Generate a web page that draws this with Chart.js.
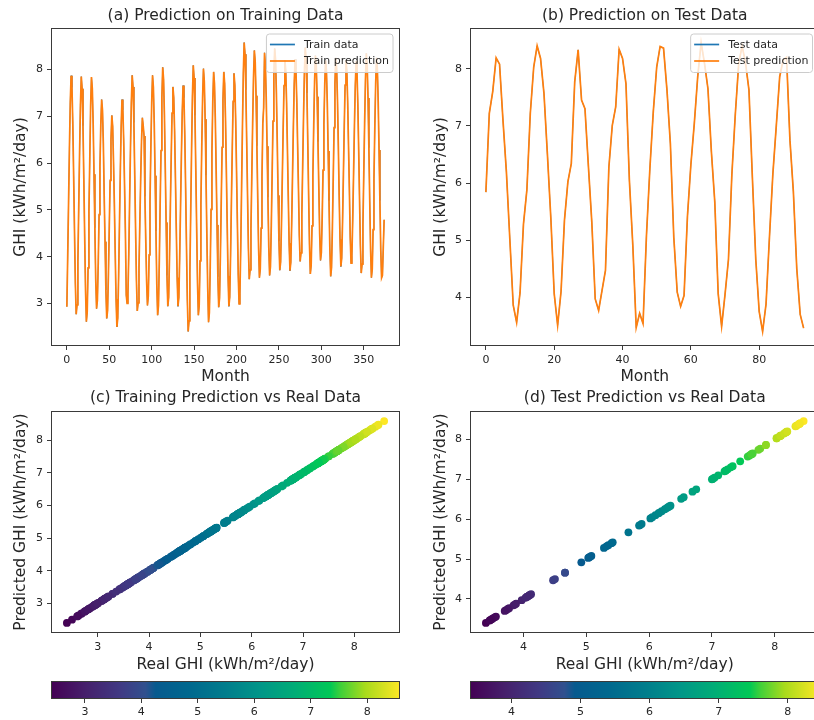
<!DOCTYPE html>
<html>
<head>
<meta charset="utf-8">
<script src="https://cdn.jsdelivr.net/npm/chart.js@4.4.1/dist/chart.umd.min.js"></script>
<style>
  html, body { margin: 0; padding: 0; background: #ffffff; width: 814px; height: 720px; overflow: hidden; }
  canvas { position: absolute; }
</style>
</head>
<body>
<canvas id="trainLine" width="410" height="390" style="left:0px;top:0px"></canvas>
<canvas id="testLine" width="420" height="390" style="left:410px;top:0px"></canvas>
<canvas id="trainScatter" width="410" height="295" style="left:0px;top:380px"></canvas>
<canvas id="testScatter" width="420" height="295" style="left:410px;top:380px"></canvas>
<canvas id="trainBar" width="410" height="45" style="left:0px;top:675px"></canvas>
<canvas id="testBar" width="420" height="45" style="left:410px;top:675px"></canvas>
<script>
// Monthly GHI (kWh/m²/day), training period: 375 months, one row per year
const trainGHI = [
  2.93, 4.02, 5.15, 6.29, 7.28, 7.87, 7.62, 6.85, 5.73, 4.56, 3.43, 2.77,
  2.97, 3.89, 5.06, 6.22, 7.24, 7.85, 7.59, 6.80, 5.65, 4.44, 3.29, 2.61,
  2.82, 3.76, 4.96, 6.06, 7.21, 7.84, 7.59, 6.85, 5.76, 4.62, 3.53, 2.89,
  3.07, 3.87, 4.90, 5.93, 6.82, 7.36, 7.13, 6.42, 5.31, 4.32, 3.29, 2.68,
  2.85, 3.63, 4.63, 5.63, 6.50, 7.02, 6.79, 6.03, 5.12, 4.08, 3.09, 2.50,
  2.69, 3.57, 4.69, 5.80, 6.78, 7.36, 7.14, 6.49, 5.53, 4.53, 3.18, 3.00,
  3.20, 4.07, 5.20, 6.32, 7.29, 7.88, 7.63, 6.87, 5.76, 4.60, 3.50, 2.84,
  3.01, 3.75, 4.70, 5.65, 6.47, 6.97, 6.80, 6.58, 5.29, 4.36, 3.48, 2.96,
  3.16, 4.04, 5.17, 6.31, 7.29, 7.88, 7.62, 6.85, 5.73, 4.55, 3.42, 2.75,
  2.96, 3.92, 5.14, 6.27, 7.41, 8.05, 7.79, 7.03, 5.90, 4.73, 3.60, 2.94,
  3.13, 3.97, 5.05, 6.13, 7.07, 7.63, 7.40, 6.69, 5.66, 4.58, 3.55, 2.94,
  3.13, 3.98, 5.06, 6.15, 7.09, 7.66, 7.40, 6.61, 5.47, 4.24, 3.08, 2.40,
  2.63, 3.65, 4.96, 6.27, 7.41, 8.09, 7.82, 7.02, 5.85, 4.62, 3.44, 2.75,
  2.96, 3.91, 5.12, 6.33, 7.39, 8.02, 7.75, 6.94, 5.74, 4.50, 3.36, 2.60,
  2.81, 3.78, 5.01, 6.24, 7.31, 7.95, 7.70, 6.94, 5.84, 4.68, 3.57, 2.92,
  3.12, 4.03, 5.18, 6.34, 7.35, 7.95, 7.70, 6.95, 5.85, 4.69, 3.59, 2.94,
  3.14, 4.04, 5.21, 6.33, 7.32, 7.92, 7.67, 6.93, 5.85, 4.72, 3.63, 2.99,
  3.21, 4.22, 5.51, 6.79, 7.91, 8.58, 8.33, 7.57, 6.45, 5.29, 4.18, 3.52,
  3.72, 4.60, 5.72, 6.85, 7.82, 8.41, 8.17, 7.44, 6.37, 5.25, 4.18, 3.55,
  3.74, 4.61, 5.71, 6.85, 7.19, 8.36, 8.12, 7.41, 6.36, 5.27, 4.22, 3.60,
  3.79, 4.67, 5.78, 6.90, 7.87, 8.45, 8.21, 7.50, 6.46, 5.31, 4.33, 3.71,
  3.89, 4.70, 5.73, 6.76, 7.66, 8.20, 7.98, 7.30, 6.31, 5.28, 4.29, 3.70,
  3.88, 4.69, 5.73, 6.77, 7.68, 8.22, 8.00, 7.36, 6.41, 5.47, 4.46, 3.90,
  4.08, 4.91, 5.96, 7.01, 7.92, 8.47, 8.23, 7.50, 6.44, 5.32, 4.26, 3.63,
  3.82, 4.66, 5.73, 6.81, 7.74, 8.30, 8.08, 7.42, 6.46, 5.49, 4.49, 3.92,
  4.09, 4.86, 5.85, 6.83, 7.69, 8.20, 7.97, 7.28, 6.26, 5.20, 4.18, 3.58,
  3.77, 4.61, 5.68, 6.76, 7.69, 8.25, 8.03, 7.36, 6.38, 5.30, 4.37, 3.79,
  3.97, 4.76, 5.77, 6.79, 7.67, 8.20, 7.98, 7.33, 6.38, 5.46, 4.42, 3.86,
  4.03, 4.81, 5.80, 6.80, 7.66, 8.18, 7.95, 7.27, 6.28, 5.24, 4.24, 3.65,
  3.84, 4.68, 5.77, 6.85, 7.79, 8.35, 8.11, 7.39, 6.33, 5.23, 4.17, 3.55,
  3.74, 4.58, 5.67, 6.75, 7.69, 8.25, 8.02, 7.31, 6.28, 5.20, 4.16, 3.55,
  3.60, 4.20, 4.79
];

// Monthly GHI (kWh/m²/day), test period: 94 months
const testGHI = [
  5.84, 7.22, 7.60, 8.19, 8.08, 7.10, 6.20, 5.03, 3.86, 3.56,
  4.08, 5.28, 5.88, 7.22, 8.03, 8.40, 8.18, 7.57, 6.51, 5.40,
  4.06, 3.51, 4.10, 5.35, 6.02, 6.34, 7.77, 8.33, 7.45, 7.30,
  6.30, 5.32, 3.97, 3.77, 4.12, 4.47, 6.28, 7.01, 7.33, 8.34,
  8.18, 7.74, 6.05, 4.92, 3.47, 3.72, 3.54, 5.08, 6.25, 7.25,
  8.03, 8.39, 8.36, 7.63, 6.69, 5.05, 4.09, 3.84, 4.03, 5.42,
  6.32, 7.04, 7.86, 8.46, 8.09, 7.65, 6.55, 5.67, 4.06, 3.49,
  4.05, 4.66, 6.15, 7.20, 8.09, 8.40, 8.10, 7.63, 6.10, 4.66,
  3.75, 3.40, 3.88, 5.05, 6.16, 7.00, 7.86, 8.15, 8.20, 6.75,
  5.85, 4.50, 3.70, 3.46
];

// Tick labels
const trainMonthTicks = [0, 50, 100, 150, 200, 250, 300, 350];
const testMonthTicks = [0, 20, 40, 60, 80];
const trainGHITicks = [3, 4, 5, 6, 7, 8];
const testGHITicks = [4, 5, 6, 7, 8];

// Text
const panelTitles = [
  '(a) Prediction on Training Data',
  '(b) Prediction on Test Data',
  '(c) Training Prediction vs Real Data',
  '(d) Test Prediction vs Real Data'
];
const seriesLabels = ['Train data', 'Train prediction', 'Test data', 'Test prediction'];
const monthLabel = 'Month';
const ghiLabel = 'GHI (kWh/m²/day)';
const realLabel = 'Real GHI (kWh/m²/day)';
const predLabel = 'Predicted GHI (kWh/m²/day)';

// ---------- styling ----------
const TEXT = '#262626';
const SPINE = '#3a3a3a';
const BLUE = '#1f77b4';
const ORANGE = '#ff7f0e';
const BIG = 15.5;
const SMALL = 11;

Chart.defaults.font.family = '"DejaVu Sans", Verdana, sans-serif';
Chart.defaults.color = TEXT;
Chart.defaults.animation = false;

// vivid viridis-like ramp: [position 0..1, colour]
const RAMP = [
  [0.00, '#440154'],
  [0.10, '#46206c'],
  [0.20, '#403a84'],
  [0.27, '#31508e'],
  [0.30, '#075a8e'],
  [0.40, '#00698e'],
  [0.50, '#007d8c'],
  [0.60, '#009688'],
  [0.70, '#00ad76'],
  [0.80, '#00c856'],
  [0.83, '#3fd03a'],
  [0.90, '#a8db1c'],
  [1.00, '#fde725']
];
function hexToRgb(h) {
  return [parseInt(h.slice(1, 3), 16), parseInt(h.slice(3, 5), 16), parseInt(h.slice(5, 7), 16)];
}
function rampColor(t) {
  t = Math.max(0, Math.min(1, t));
  let i = 0;
  while (i < RAMP.length - 2 && t > RAMP[i + 1][0]) i++;
  const [p0, c0] = RAMP[i], [p1, c1] = RAMP[i + 1];
  const f = (t - p0) / (p1 - p0);
  const a = hexToRgb(c0), b = hexToRgb(c1);
  const c = a.map((v, k) => Math.round(v + (b[k] - v) * f));
  return `rgb(${c[0]},${c[1]},${c[2]})`;
}

function paddedRange(lo, hi) {
  const m = (hi - lo) * 0.05;
  return [lo - m, hi + m];
}

// frame around the plotting area (all four spines)
const frame = {
  id: 'frame',
  afterDraw(chart) {
    const a = chart.chartArea, ctx = chart.ctx;
    ctx.save();
    ctx.strokeStyle = SPINE;
    ctx.lineWidth = 1;
    const l = Math.round(a.left) + 0.5, t = Math.round(a.top) + 0.5;
    const r = Math.round(a.right) - 0.5, b = Math.round(a.bottom) - 0.5;
    ctx.strokeRect(l, t, r - l, b - t);
    ctx.restore();
  }
};

// legend box drawn inside the upper-right corner of the plotting area
const insetLegend = {
  id: 'insetLegend',
  afterDatasetsDraw(chart, args, opts) {
    if (!opts || !opts.display) return;
    const ctx = chart.ctx, a = chart.chartArea;
    const items = chart.data.datasets.map(d => ({ text: d.label, color: d.borderColor }));
    ctx.save();
    ctx.font = `${SMALL}px "DejaVu Sans"`;
    const textW = Math.max(...items.map(it => ctx.measureText(it.text).width));
    const padL = 3.5, lineLen = 25, gap = 9, padR = 4, rowH = 16.5;
    const w = padL + lineLen + gap + textW + padR;
    const h = 11 + rowH * (items.length - 1) + 11;
    const right = a.right - 7, top = a.top + 6;
    const left = right - w;
    ctx.beginPath();
    if (ctx.roundRect) ctx.roundRect(left, top, w, h, 3); else ctx.rect(left, top, w, h);
    ctx.fillStyle = 'rgba(255,255,255,0.8)';
    ctx.fill();
    ctx.strokeStyle = '#cccccc';
    ctx.lineWidth = 1;
    ctx.stroke();
    items.forEach((it, i) => {
      const y = top + 10.5 + i * rowH;
      ctx.beginPath();
      ctx.moveTo(left + padL, y);
      ctx.lineTo(left + padL + lineLen, y);
      ctx.strokeStyle = it.color;
      ctx.lineWidth = 1.7;
      ctx.stroke();
      ctx.fillStyle = TEXT;
      ctx.textBaseline = 'middle';
      ctx.textAlign = 'left';
      ctx.fillText(it.text, left + padL + lineLen + gap, y + 0.5);
    });
    ctx.restore();
  }
};

// colour ramp filling the plotting area (used for the colorbars)
const colorRamp = {
  id: 'colorRamp',
  beforeDatasetsDraw(chart, args, opts) {
    if (!opts || !opts.display) return;
    const a = chart.chartArea, ctx = chart.ctx;
    const g = ctx.createLinearGradient(a.left, 0, a.right, 0);
    RAMP.forEach(([p, c]) => g.addColorStop(p, c));
    ctx.save();
    ctx.fillStyle = g;
    ctx.fillRect(a.left, a.top, a.right - a.left, a.bottom - a.top);
    ctx.restore();
  }
};

function axis(range, tickValues, fixed, titleText, titlePad) {
  const horizontalSize = fixed.height !== undefined;
  return {
    type: 'linear',
    min: range[0],
    max: range[1],
    border: { display: false },
    grid: { drawOnChartArea: false, drawTicks: true, tickLength: 4, color: SPINE, lineWidth: 1 },
    ticks: {
      font: { size: SMALL }, color: TEXT, padding: 4,
      autoSkip: false, maxRotation: 0, minRotation: 0,
      callback: v => String(v)
    },
    afterBuildTicks: s => { s.ticks = tickValues.map(v => ({ value: v })); },
    afterFit: s => {
      if (horizontalSize) s.height = fixed.height; else s.width = fixed.width;
    },
    title: titleText ? {
      display: true, text: titleText, color: TEXT,
      font: { size: BIG }, padding: titlePad
    } : { display: false }
  };
}

function titleOpts(text, top, bottom) {
  return {
    display: true, text, color: TEXT, fullSize: false,
    font: { size: BIG, weight: 'normal' },
    padding: { top, bottom }
  };
}

const basePlugins = { legend: { display: false }, tooltip: { enabled: false } };

// ---------- (a) and (b): time series ----------
function lineChart(id, values, labels, monthTicks, ghiTicks, title, yWidth, yTitlePad, padRight) {
  const pts = values.map((v, i) => ({ x: i, y: v }));
  const xr = paddedRange(0, values.length - 1);
  const yr = paddedRange(Math.min(...values), Math.max(...values));
  return new Chart(document.getElementById(id), {
    type: 'line',
    data: {
      datasets: [
        // observed series sits underneath the prediction, which coincides with it
        { label: labels[0], data: pts, borderColor: BLUE, backgroundColor: BLUE, borderWidth: 0.8, order: 1 },
        { label: labels[1], data: pts, borderColor: ORANGE, backgroundColor: ORANGE, borderWidth: 1.7, order: 0 }
      ]
    },
    options: {
      responsive: false,
      events: [],
      layout: { padding: { left: 0, right: padRight, top: 0, bottom: 0 } },
      elements: { line: { tension: 0, fill: false }, point: { radius: 0 } },
      scales: {
        x: axis(xr, monthTicks, { height: 44 }, monthLabel, { top: 0, bottom: 3.7 }),
        y: axis(yr, ghiTicks, { width: yWidth }, ghiLabel, { top: yTitlePad, bottom: 0 })
      },
      plugins: Object.assign({}, basePlugins, {
        title: titleOpts(title, 6.7, 2.7),
        insetLegend: { display: true }
      })
    },
    plugins: [frame, insetLegend]
  });
}

lineChart('trainLine', trainGHI, seriesLabels.slice(0, 2), trainMonthTicks, trainGHITicks, panelTitles[0], 51, 12, 10);
lineChart('testLine', testGHI, seriesLabels.slice(2, 4), testMonthTicks, testGHITicks, panelTitles[1], 60, 21.5, 10.5);

// ---------- (c) and (d): predicted vs real ----------
function scatterChart(id, values, ghiTicks, title, yWidth, yTitlePad, padRight) {
  const lo = Math.min(...values), hi = Math.max(...values);
  const r = paddedRange(lo, hi);
  const pts = values.map(v => ({ x: v, y: v }));
  const colors = values.map(v => rampColor((v - lo) / (hi - lo)));
  return new Chart(document.getElementById(id), {
    type: 'scatter',
    data: {
      datasets: [{
        data: pts, pointBackgroundColor: colors, pointBorderWidth: 0,
        pointRadius: 3.9, pointHoverRadius: 3.9
      }]
    },
    options: {
      responsive: false,
      events: [],
      layout: { padding: { left: 0, right: padRight, top: 0, bottom: 0 } },
      scales: {
        x: axis(r, ghiTicks, { height: 42 }, realLabel, { top: 0, bottom: 0.7 }),
        y: axis(r, ghiTicks, { width: yWidth }, predLabel, { top: yTitlePad, bottom: 0 })
      },
      plugins: Object.assign({}, basePlugins, { title: titleOpts(title, 8.7, 3.7) })
    },
    plugins: [frame]
  });
}

scatterChart('trainScatter', trainGHI, trainGHITicks, panelTitles[2], 51, 12, 10);
scatterChart('testScatter', testGHI, testGHITicks, panelTitles[3], 60, 21.5, 10.5);

// ---------- colorbars ----------
function colorBar(id, values, ticks, padLeft, padRight) {
  const lo = Math.min(...values), hi = Math.max(...values);
  const x = axis([lo, hi], ticks, { height: 21 }, null, null);
  x.ticks.padding = 3;
  return new Chart(document.getElementById(id), {
    type: 'scatter',
    data: { datasets: [{ data: [] }] },
    options: {
      responsive: false,
      events: [],
      layout: { padding: { left: padLeft, right: padRight, top: 6, bottom: 0 } },
      scales: {
        x,
        y: { display: false, min: 0, max: 1 }
      },
      plugins: Object.assign({}, basePlugins, { colorRamp: { display: true } })
    },
    plugins: [colorRamp, frame]
  });
}

colorBar('trainBar', trainGHI, trainGHITicks, 51, 10);
colorBar('testBar', testGHI, testGHITicks, 60, 10.5);
</script>
</body>
</html>
